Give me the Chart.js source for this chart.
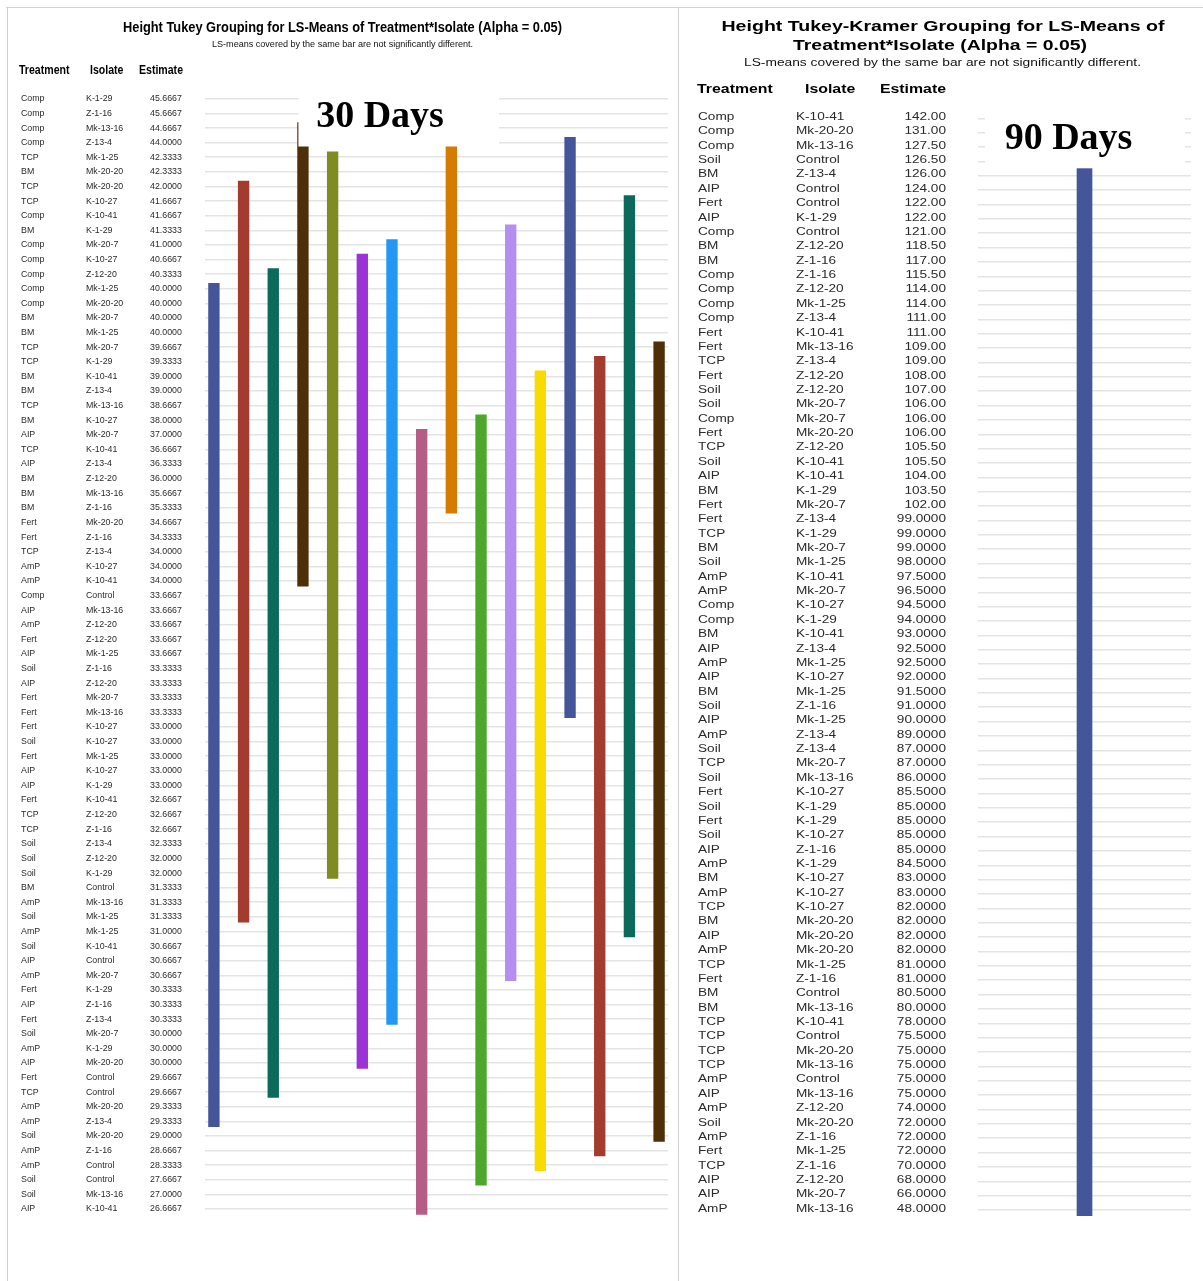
<!DOCTYPE html>
<html>
<head>
<meta charset="utf-8">
<title>Height Tukey Grouping for LS-Means of Treatment*Isolate</title>
<script src="https://cdn.jsdelivr.net/npm/chart.js@4.4.1/dist/chart.umd.min.js"></script>
<style>
  html, body { margin: 0; padding: 0; background: #fff; }
  #page { position: relative; width: 1203px; height: 1281px; overflow: hidden; background: #fff; }
  #page canvas { position: absolute; top: 0; }
  #c30 { left: 0; }
  #c90 { left: 679px; }
  .rule { position: absolute; background: #d2d2d2; }
</style>
</head>
<body>
<div id="page">
  <canvas id="c30" width="678" height="1281"></canvas>
  <canvas id="c90" width="524" height="1281"></canvas>
  <div class="rule" style="left:6px;top:7px;width:1197px;height:1px"></div>
  <div class="rule" style="left:7px;top:7px;width:1px;height:1274px"></div>
  <div class="rule" style="left:678px;top:7px;width:1px;height:1274px"></div>
</div>
<script>
// ---------- 30 days: LS-means sorted from highest to lowest ----------
const treat30 = [
  'Comp','Comp','Comp','Comp','TCP','BM','TCP','TCP','Comp','BM',
  'Comp','Comp','Comp','Comp','Comp','BM','BM','TCP','TCP','BM',
  'BM','TCP','BM','AIP','TCP','AIP','BM','BM','BM','Fert',
  'Fert','TCP','AmP','AmP','Comp','AIP','AmP','Fert','AIP','Soil',
  'AIP','Fert','Fert','Fert','Soil','Fert','AIP','AIP','Fert','TCP',
  'TCP','Soil','Soil','Soil','BM','AmP','Soil','AmP','Soil','AIP',
  'AmP','Fert','AIP','Fert','Soil','AmP','AIP','Fert','TCP','AmP',
  'AmP','Soil','AmP','AmP','Soil','Soil','AIP'
];
const isolate30 = [
  'K-1-29','Z-1-16','Mk-13-16','Z-13-4','Mk-1-25','Mk-20-20','Mk-20-20','K-10-27','K-10-41','K-1-29',
  'Mk-20-7','K-10-27','Z-12-20','Mk-1-25','Mk-20-20','Mk-20-7','Mk-1-25','Mk-20-7','K-1-29','K-10-41',
  'Z-13-4','Mk-13-16','K-10-27','Mk-20-7','K-10-41','Z-13-4','Z-12-20','Mk-13-16','Z-1-16','Mk-20-20',
  'Z-1-16','Z-13-4','K-10-27','K-10-41','Control','Mk-13-16','Z-12-20','Z-12-20','Mk-1-25','Z-1-16',
  'Z-12-20','Mk-20-7','Mk-13-16','K-10-27','K-10-27','Mk-1-25','K-10-27','K-1-29','K-10-41','Z-12-20',
  'Z-1-16','Z-13-4','Z-12-20','K-1-29','Control','Mk-13-16','Mk-1-25','Mk-1-25','K-10-41','Control',
  'Mk-20-7','K-1-29','Z-1-16','Z-13-4','Mk-20-7','K-1-29','Mk-20-20','Control','Control','Mk-20-20',
  'Z-13-4','Mk-20-20','Z-1-16','Control','Control','Mk-13-16','K-10-41'
];
const estimate30 = [
  45.6667, 45.6667, 44.6667, 44.0000, 42.3333, 42.3333, 42.0000, 41.6667, 41.6667, 41.3333,
  41.0000, 40.6667, 40.3333, 40.0000, 40.0000, 40.0000, 40.0000, 39.6667, 39.3333, 39.0000,
  39.0000, 38.6667, 38.0000, 37.0000, 36.6667, 36.3333, 36.0000, 35.6667, 35.3333, 34.6667,
  34.3333, 34.0000, 34.0000, 34.0000, 33.6667, 33.6667, 33.6667, 33.6667, 33.6667, 33.3333,
  33.3333, 33.3333, 33.3333, 33.0000, 33.0000, 33.0000, 33.0000, 33.0000, 32.6667, 32.6667,
  32.6667, 32.3333, 32.0000, 32.0000, 31.3333, 31.3333, 31.3333, 31.0000, 30.6667, 30.6667,
  30.6667, 30.3333, 30.3333, 30.3333, 30.0000, 30.0000, 30.0000, 29.6667, 29.6667, 29.3333,
  29.3333, 29.0000, 28.6667, 28.3333, 27.6667, 27.0000, 26.6667
];
// Tukey groups (first row, last row covered by each bar), left to right
const groupFirst30 = [14,  7, 13,  3,  5, 12, 11, 24,  1, 23, 10, 20,  4, 19,  8, 18];
const groupLast30  = [71, 57, 69, 34, 54, 67, 64, 77, 29, 75, 61, 74, 43, 73, 58, 72];

// ---------- 90 days ----------
const treat90 = [
  'Comp','Comp','Comp','Soil','BM','AIP','Fert','AIP','Comp','BM',
  'BM','Comp','Comp','Comp','Comp','Fert','Fert','TCP','Fert','Soil',
  'Soil','Comp','Fert','TCP','Soil','AIP','BM','Fert','Fert','TCP',
  'BM','Soil','AmP','AmP','Comp','Comp','BM','AIP','AmP','AIP',
  'BM','Soil','AIP','AmP','Soil','TCP','Soil','Fert','Soil','Fert',
  'Soil','AIP','AmP','BM','AmP','TCP','BM','AIP','AmP','TCP',
  'Fert','BM','BM','TCP','TCP','TCP','TCP','AmP','AIP','AmP',
  'Soil','AmP','Fert','TCP','AIP','AIP','AmP'
];
const isolate90 = [
  'K-10-41','Mk-20-20','Mk-13-16','Control','Z-13-4','Control','Control','K-1-29','Control','Z-12-20',
  'Z-1-16','Z-1-16','Z-12-20','Mk-1-25','Z-13-4','K-10-41','Mk-13-16','Z-13-4','Z-12-20','Z-12-20',
  'Mk-20-7','Mk-20-7','Mk-20-20','Z-12-20','K-10-41','K-10-41','K-1-29','Mk-20-7','Z-13-4','K-1-29',
  'Mk-20-7','Mk-1-25','K-10-41','Mk-20-7','K-10-27','K-1-29','K-10-41','Z-13-4','Mk-1-25','K-10-27',
  'Mk-1-25','Z-1-16','Mk-1-25','Z-13-4','Z-13-4','Mk-20-7','Mk-13-16','K-10-27','K-1-29','K-1-29',
  'K-10-27','Z-1-16','K-1-29','K-10-27','K-10-27','K-10-27','Mk-20-20','Mk-20-20','Mk-20-20','Mk-1-25',
  'Z-1-16','Control','Mk-13-16','K-10-41','Control','Mk-20-20','Mk-13-16','Control','Mk-13-16','Z-12-20',
  'Mk-20-20','Z-1-16','Mk-1-25','Z-1-16','Z-12-20','Mk-20-7','Mk-13-16'
];
const estimate90 = [
  142, 131, 127.5, 126.5, 126, 124, 122, 122, 121, 118.5,
  117, 115.5, 114, 114, 111, 111, 109, 109, 108, 107,
  106, 106, 106, 105.5, 105.5, 104, 103.5, 102, 99, 99,
  99, 98, 97.5, 96.5, 94.5, 94, 93, 92.5, 92.5, 92,
  91.5, 91, 90, 89, 87, 87, 86, 85.5, 85, 85,
  85, 85, 84.5, 83, 83, 82, 82, 82, 82, 81,
  81, 80.5, 80, 78, 75.5, 75, 75, 75, 75, 74,
  72, 72, 72, 70, 68, 66, 48
];
const groupFirst90 = [1];
const groupLast90  = [77];

// bar colours, cycled across the groups
const barColors = ['#45559a', '#a33b2f', '#0b6a5b', '#4f2f07', '#7f8c22', '#9c33d6',
                   '#2298f4', '#b45d87', '#d47b00', '#4ba82b', '#b48ff1', '#fadb00'];

// draw a text run, optionally stretched horizontally to a set width
function drawText(ctx, s, x, y, o) {
  ctx.save();
  ctx.font = o.font;
  ctx.fillStyle = o.color || '#000';
  ctx.textBaseline = o.baseline || 'middle';
  ctx.textAlign = o.align || 'left';
  let sx = o.sx || 1;
  if (o.width) sx = o.width / ctx.measureText(s).width;
  ctx.translate(x, y);
  ctx.scale(sx, 1);
  ctx.fillText(s, 0, 0);
  ctx.restore();
}

function tablePlugin(o) {
  return {
    id: 'lsmeansTable',
    afterDraw(chart) {
      const ctx = chart.ctx;
      const ys = chart.scales.y;
      o.texts.forEach(t => drawText(ctx, t.text, t.x, t.y, t));
      o.treat.forEach((tr, i) => {
        const y = ys.getPixelForValue(i + 1) + o.rowShift;
        drawText(ctx, tr, o.colX[0], y, o.cell);
        drawText(ctx, o.isolate[i], o.colX[1], y, o.cell);
        drawText(ctx, o.fmt(o.estimate[i]), o.colX[2], y, Object.assign({}, o.cell, { align: o.estAlign }));
      });
      // period label on a white box
      const b = o.box;
      ctx.save();
      ctx.fillStyle = '#fff';
      ctx.fillRect(b.x, b.y, b.w, b.h);
      ctx.restore();
      drawText(ctx, b.text, b.tx, b.ty, { font: 'bold 38px "Liberation Serif", "DejaVu Serif", serif',
        align: 'center', baseline: 'alphabetic', color: '#000' });
    }
  };
}

function buildChart(id, o) {
  const n = o.treat.length;
  const rowTicks = o.treat.map((_, i) => i + 1);
  return new Chart(document.getElementById(id), {
    type: 'bar',
    data: {
      datasets: [{
        data: o.first.map((f, k) => ({ x: k + 1, y: [f - o.pad, o.last[k] + o.pad] })),
        backgroundColor: o.first.map((_, k) => barColors[k % barColors.length]),
        borderWidth: 0,
        barThickness: o.barWidth
      }]
    },
    options: {
      responsive: false,
      animation: false,
      events: [],
      layout: { padding: o.padding },
      plugins: { legend: { display: false }, tooltip: { enabled: false }, title: { display: false } },
      scales: {
        x: { type: 'linear', display: false, offset: false, min: o.xMin, max: o.xMax },
        y: {
          type: 'linear', reverse: true, min: 0.5, max: n + 0.5,
          afterBuildTicks: s => { s.ticks = rowTicks.map(v => ({ value: v })); },
          ticks: { display: false },
          grid: { color: '#e4e4e4', lineWidth: 1.5, drawTicks: false },
          border: { display: false }
        }
      }
    },
    plugins: [tablePlugin(o)]
  });
}

const sans = '"Liberation Sans", Arial, sans-serif';

buildChart('c30', {
  treat: treat30, isolate: isolate30, estimate: estimate30,
  first: groupFirst30, last: groupLast30,
  fmt: v => v.toFixed(4),
  pad: 0.37, barWidth: 10.7, xMin: 0.7, xMax: 16.3,
  padding: { left: 205, right: 10, top: 91.5, bottom: 64.7 },
  colX: [21, 86, 150], estAlign: 'left', rowShift: 0,
  cell: { font: '9px ' + sans, color: '#2a2a2a', sx: 0.98 },
  texts: [
    { text: 'Height Tukey Grouping for LS-Means of Treatment*Isolate (Alpha = 0.05)', x: 342.5, y: 28,
      font: 'bold 15px ' + sans, align: 'center', width: 439 },
    { text: 'LS-means covered by the same bar are not significantly different.', x: 342.5, y: 44,
      font: '9.5px ' + sans, align: 'center', width: 261, color: '#111' },
    { text: 'Treatment', x: 19, y: 71, font: 'bold 12px ' + sans, sx: 0.88 },
    { text: 'Isolate', x: 90, y: 71, font: 'bold 12px ' + sans, sx: 0.88 },
    { text: 'Estimate', x: 183, y: 71, font: 'bold 12px ' + sans, sx: 0.88, align: 'right' }
  ],
  box: { x: 298.4, y: 86, w: 200.6, h: 60.5, text: '30 Days', tx: 380, ty: 127 }
});

buildChart('c90', {
  treat: treat90, isolate: isolate90, estimate: estimate90,
  first: groupFirst90, last: groupLast90,
  fmt: v => v >= 100 ? v.toFixed(2) : v.toFixed(4),
  pad: 0.4, barWidth: 15, xMin: 0.5, xMax: 1.5,
  padding: { left: 299, right: 12, top: 111.1, bottom: 63.8 },
  colX: [19, 117, 267], estAlign: 'right', rowShift: -1,
  cell: { font: '10px ' + sans, color: '#2a2a2a', sx: 1.36 },
  texts: [
    { text: 'Height Tukey-Kramer Grouping for LS-Means of', x: 264, y: 27,
      font: 'bold 15.5px ' + sans, align: 'center', width: 443 },
    { text: 'Treatment*Isolate (Alpha = 0.05)', x: 261, y: 46,
      font: 'bold 15.5px ' + sans, align: 'center', width: 294 },
    { text: 'LS-means covered by the same bar are not significantly different.', x: 263.5, y: 63,
      font: '10px ' + sans, align: 'center', width: 397, color: '#111' },
    { text: 'Treatment', x: 18, y: 89, font: 'bold 13px ' + sans, sx: 1.22 },
    { text: 'Isolate', x: 126, y: 89, font: 'bold 13px ' + sans, sx: 1.22 },
    { text: 'Estimate', x: 267, y: 89, font: 'bold 13px ' + sans, sx: 1.22, align: 'right' }
  ],
  box: { x: 306, y: 104, w: 200, h: 64.3, text: '90 Days', tx: 389.5, ty: 149 }
});
</script>
</body>
</html>
